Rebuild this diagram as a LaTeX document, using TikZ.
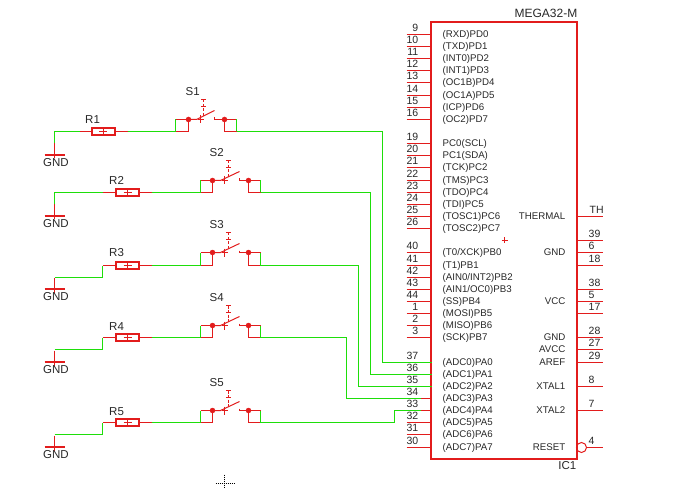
\documentclass[tikz,border=0pt]{standalone}
\usepackage{fontspec}
\setmainfont{Liberation Sans}
\definecolor{schred}{RGB}{226,28,28}
\definecolor{schgreen}{RGB}{30,222,10}
\definecolor{schtext}{RGB}{40,40,40}
\tikzset{
  redw/.style={draw=schred,line width=1pt},
  grnw/.style={draw=schgreen,line width=1pt},
  pinnum/.style={text=schtext,font=\fontsize{10.5}{12}\selectfont,inner sep=0pt},
  pintxt/.style={text=schtext,font=\fontsize{9.7}{11}\selectfont,inner sep=0pt},
  bigtxt/.style={text=schtext,font=\fontsize{11.5}{13}\selectfont,inner sep=0pt},
  resbox/.style={draw=schred,line width=2pt,fill=white,minimum width=23pt,inner sep=0pt,outer sep=0pt},
  dotn/.style={circle,fill=schred,inner sep=0pt,minimum size=5.5pt},
}
\newcommand{\lpin}[3]{%
  \coordinate (pin#1) at (431,#2);
  \coordinate (pinE#1) at (406,#2);
  \draw[redw] (pinE#1) -- (pin#1);
  \node[pinnum,anchor=base east] (num#1) at (418,#2-2.8) {#1};
  \node[pintxt,anchor=base west] (lab#1) at (442,#2+3.2) {#3};
}
\newcommand{\rpin}[4]{%
  \coordinate (pin#1) at (577,#2);
  \coordinate (pinE#1) at (602,#2);
  \draw[redw] (pin#1) -- (pinE#1);
  \node[pinnum,anchor=base west] (num#1) at (#3,#2-2.8) {#4};
}
\newcommand{\rlab}[3]{\node[pintxt,anchor=base east] (#1) at (565,#2+3.2) {#3};}
% id, left-dot x, top y, left box offset, height, label, lever post x
\newcommand{\swsym}[7]{%
  \begin{scope}[shift={(#2,#3)}]
    \node[dotn] (#1a) at (0,0) {};
    \node[dotn] (#1b) at (36,0) {};
    \coordinate (#1c) at (0,#5);
    \coordinate (#1d) at (36,#5);
    \coordinate (#1e) at (#4,0);
    \coordinate (#1f) at (48,0);
    \coordinate (#1g) at (#4,#5);
    \coordinate (#1h) at (48,#5);
    \draw[redw] (#1e) -- (#1a.center) -- (#1c) -- (#1g);
    \draw[redw] (#1f) -- (#1b.center) -- (#1d) -- (#1h);
    \draw[grnw] (#1e) -- (#1g);
    \draw[grnw] (#1f) -- (#1h);
    \draw[redw] (0,0) -- (8,0) -- (#7+11,-9);
    \draw[redw] (9,0) -- (15,0) (12,-4) -- (12,4);
    \draw[redw,dash pattern=on 3pt off 1.5pt] (#7,-20) -- (#7,-3.5);
    \draw[redw] (#7-2.5,-20) -- (#7+2.5,-20) (#7-2.5,-13) -- (#7+2.5,-13);
    \draw[redw] (#7+11,-2) -- (#7+11,0) -- (36,0);
    \node[bigtxt,anchor=base west] (#1t) at (-3,-23.8) {#6};
  \end{scope}
}
% id, box centre x, wire y, box height, lead left x, lead right x
\newcommand{\ressym}[6]{%
  \coordinate (#1l) at (#5,#3);
  \coordinate (#1r) at (#6,#3);
  \draw[redw] (#1l) -- (#1r);
  \node[resbox,minimum height=#4] (#1) at (#2,#3) {};
  \draw[redw] (#2-4,#3) -- (#2+4,#3) (#2,#3-3.5) -- (#2,#3+3.5);
}
% id, wire y, bar y
\newcommand{\gndsym}[3]{%
  \coordinate (#1w) at (54,#2);
  \coordinate (#1m) at (54,#3-12);
  \coordinate (#1p) at (54,#3+3);
  \draw[draw=schred,line width=2pt] (44,#3-.5) -- (64,#3-.5);
  \draw[redw] (#1m) -- (#1p);
  \node[bigtxt,anchor=base west] (#1t) at (42.5,#3+11.2) {GND};
}
\begin{document}
\begin{tikzpicture}[x=1pt,y=-1pt]
\useasboundingbox (0,0) rectangle (680,489);
\begin{scope}[shift={(0.5,0.5)}]
% left pins
\lpin{9}{34}{(RXD)PD0}
\lpin{10}{46}{(TXD)PD1}
\lpin{11}{58}{(INT0)PD2}
\lpin{12}{70}{(INT1)PD3}
\lpin{13}{82}{(OC1B)PD4}
\lpin{14}{95}{(OC1A)PD5}
\lpin{15}{107}{(ICP)PD6}
\lpin{16}{119}{(OC2)PD7}
\lpin{19}{143}{PC0(SCL)}
\lpin{20}{155}{PC1(SDA)}
\lpin{21}{167}{(TCK)PC2}
\lpin{22}{180}{(TMS)PC3}
\lpin{23}{192}{(TDO)PC4}
\lpin{24}{204}{(TDI)PC5}
\lpin{25}{216}{(TOSC1)PC6}
\lpin{26}{228}{(TOSC2)PC7}
\lpin{40}{252}{(T0/XCK)PB0}
\lpin{41}{265}{(T1)PB1}
\lpin{42}{277}{(AIN0/INT2)PB2}
\lpin{43}{289}{(AIN1/OC0)PB3}
\lpin{44}{301}{(SS)PB4}
\lpin{1}{313}{(MOSI)PB5}
\lpin{2}{325}{(MISO)PB6}
\lpin{3}{337}{(SCK)PB7}
\lpin{37}{362}{(ADC0)PA0}
\lpin{36}{374}{(ADC1)PA1}
\lpin{35}{386}{(ADC2)PA2}
\lpin{34}{398}{(ADC3)PA3}
\lpin{33}{410}{(ADC4)PA4}
\lpin{32}{422}{(ADC5)PA5}
\lpin{31}{434}{(ADC6)PA6}
\lpin{30}{447}{(ADC7)PA7}
% right pins
\rpin{TH}{216}{589}{TH}
\rpin{39}{240}{588}{39}
\rpin{6}{252}{588}{6}
\rpin{18}{265}{588}{18}
\rpin{38}{289}{588}{38}
\rpin{5}{301}{588}{5}
\rpin{17}{313}{588}{17}
\rpin{28}{337}{588}{28}
\rpin{27}{349}{588}{27}
\rpin{29}{362}{588}{29}
\rpin{8}{386}{588}{8}
\rpin{7}{410}{588}{7}
\coordinate (pinE4) at (602,447);
\node[draw=schred,line width=1pt,circle,minimum size=10pt,inner sep=0pt,outer sep=0pt] (rstc) at (581,447) {};
\draw[redw] (rstc.east) -- (pinE4);
\node[pinnum,anchor=base west] (num4) at (588,444.2) {4};
\rlab{lthermal}{215.5}{THERMAL}
\rlab{lgnda}{252}{GND}
\rlab{lvcc}{301}{VCC}
\rlab{lgndb}{337}{GND}
\rlab{lavcc}{349}{AVCC}
\rlab{laref}{362}{AREF}
\rlab{lxa}{386}{XTAL1}
\rlab{lxb}{410}{XTAL2}
\rlab{lrst}{447}{RESET}
% IC body
\node[draw=schred,line width=2pt,minimum width=146pt,minimum height=437pt,anchor=north west,inner sep=0pt,outer sep=0pt] (ic) at (430.5,21.5) {};
\draw[redw] (501,240) -- (507,240) (504,237) -- (504,243);
\node[bigtxt,anchor=base east,font=\fontsize{12}{13}\selectfont] (icname) at (577,17) {MEGA32-M};
\node[bigtxt,anchor=base east] (icref) at (576,469) {IC1};
% switches
\swsym{sa}{188}{119}{-13}{12}{S1}{15}
\swsym{sb}{212}{180}{-12}{12}{S2}{16}
\swsym{sc}{212}{252}{-12}{13}{S3}{16}
\swsym{sd}{212}{325}{-12}{12}{S4}{16}
\swsym{se}{212}{410}{-12}{12}{S5}{16}
% resistors
\ressym{ra}{102.5}{131}{6.5pt}{79}{127}
\ressym{rb}{127}{192}{7.5pt}{102}{151}
\ressym{rc}{127}{265}{7.5pt}{102}{151}
\ressym{rd}{127}{337}{7.5pt}{102}{151}
\ressym{re}{127}{422}{7.5pt}{102}{151}
\node[bigtxt,anchor=base west] (rat) at (84.5,123) {R1};
\node[bigtxt,anchor=base west] (rbt) at (108.5,184) {R2};
\node[bigtxt,anchor=base west] (rct) at (108.5,256.5) {R3};
\node[bigtxt,anchor=base west] (rdt) at (108.5,329.5) {R4};
\node[bigtxt,anchor=base west] (ret) at (108.5,414.5) {R5};
% grounds
\gndsym{ga}{131}{155}
\gndsym{gb}{192}{216}
\gndsym{gc}{277}{289}
\gndsym{gd}{349}{362}
\gndsym{ge}{434}{447}
% wires left of resistors
\draw[grnw] (gam) -- (gaw) -- (ral);
\draw[grnw] (gbm) -- (gbw) -- (rbl);
\draw[grnw] (gcw) -- (rcl |- gcw) -- (rcl);
\draw[grnw] (gdw) -- (rdl |- gdw) -- (rdl);
\draw[grnw] (gew) -- (rel |- gew) -- (rel);
% resistor to switch
\draw[grnw] (rar) -- (sag);
\draw[grnw] (rbr) -- (sbg);
\draw[grnw] (rcr) -- (scg);
\draw[grnw] (rdr) -- (sdg);
\draw[grnw] (rer) -- (seg);
% switch to IC
\coordinate (tapa) at (420,398);
\coordinate (tapb) at (420,410);
\draw[grnw] (sah) -- (382,131) -- (382,362) -- (pin37);
\draw[grnw] (sbh) -- (370,192) -- (370,374) -- (pin36);
\draw[grnw] (sch) -- (358,265) -- (358,386) -- (pin35);
\draw[grnw] (sdh) -- (346,337) -- (346,398) -- (tapa);
\draw[grnw] (seh) -- (394,422) -- (394,410) -- (tapb);
% origin mark
\draw[black,line width=1pt,dash pattern=on 1pt off 1pt] (215,483) -- (234,483) (224,474) -- (224,488);
\end{scope}
\end{tikzpicture}
\end{document}
